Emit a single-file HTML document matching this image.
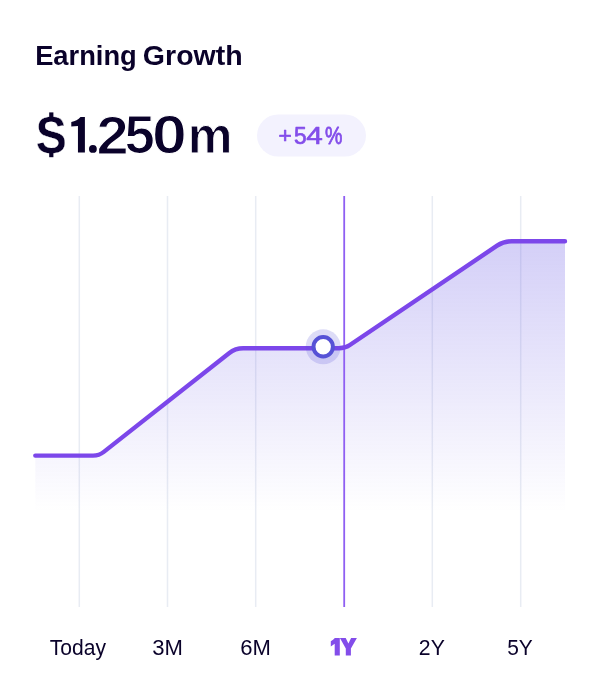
<!DOCTYPE html>
<html>
<head>
<meta charset="utf-8">
<style>
html,body{margin:0;padding:0;background:#ffffff;}
body{width:600px;height:700px;overflow:hidden;position:relative;font-family:"Liberation Sans",sans-serif;}
svg{position:absolute;left:0;top:0;will-change:transform;}
text{font-family:"Liberation Sans",sans-serif;}
</style>
</head>
<body>
<svg width="600" height="700" viewBox="0 0 600 700">
  <defs>
    <linearGradient id="fillg" x1="0" y1="241" x2="0" y2="512" gradientUnits="userSpaceOnUse">
      <stop offset="0" stop-color="#6252e4" stop-opacity="0.277"/>
      <stop offset="1" stop-color="#6252e4" stop-opacity="0"/>
    </linearGradient>
  </defs>

  <!-- title -->
  <text transform="translate(35.16 65.05) scale(0.2730 0.2851)" font-size="100" font-weight="bold" fill="#0a022a">Earning</text>
  <text transform="translate(142.86 65.05) scale(0.2853 0.2851)" font-size="100" font-weight="bold" fill="#0a022a">Growth</text>

  <!-- amount -->
  <text transform="translate(35.76 152.73) scale(0.4636 0.5201)" font-size="100" font-weight="bold" fill="#0a022a" stroke="#ffffff" stroke-width="0.30" vector-effect="non-scaling-stroke">S</text>
  <text transform="translate(96.58 153.50) scale(0.5781 0.5405)" font-size="100" font-weight="bold" fill="#0a022a" stroke="#ffffff" stroke-width="1.20" vector-effect="non-scaling-stroke">2</text>
  <text transform="translate(124.56 153.17) scale(0.5457 0.5305)" font-size="100" font-weight="bold" fill="#0a022a" stroke="#ffffff" stroke-width="1.20" vector-effect="non-scaling-stroke">5</text>
  <text transform="translate(151.90 153.26) scale(0.6253 0.5385)" font-size="100" font-weight="bold" fill="#0a022a" stroke="#ffffff" stroke-width="1.20" vector-effect="non-scaling-stroke">0</text>
  <text transform="translate(187.83 153.30) scale(0.5036 0.5153)" font-size="100" font-weight="bold" fill="#0a022a" stroke="#ffffff" stroke-width="1.00" vector-effect="non-scaling-stroke">m</text>
  <path d="M80.5 117 L84.9 117 L84.9 152.6 L77.95 152.6 L77.95 126 L71.3 126.5 L71.3 122 C75 121.5 78.5 119.5 80.5 117 Z" fill="#0a022a"/>
  <circle cx="92.9" cy="148.9" r="3.9" fill="#0a022a"/>
  <rect x="49.2" y="112.4" width="4.2" height="6" fill="#0a022a"/>
  <rect x="49.2" y="151" width="4.2" height="6.2" fill="#0a022a"/>

  <!-- badge -->
  <rect x="257" y="114.5" width="109" height="42" rx="21" ry="21" fill="#f3f2fe"/>
  <text transform="translate(278.52 142.81) scale(0.2268 0.2245)" font-size="100" font-weight="normal" fill="#834dea" stroke="#834dea" stroke-width="0.70" vector-effect="non-scaling-stroke" stroke-linejoin="round">+</text>
  <text transform="translate(293.94 143.61) scale(0.2274 0.2409)" font-size="100" font-weight="normal" fill="#834dea" stroke="#834dea" stroke-width="0.70" vector-effect="non-scaling-stroke" stroke-linejoin="round">5</text>
  <text transform="translate(306.28 143.55) scale(0.2970 0.2385)" font-size="100" font-weight="normal" fill="#834dea" stroke="#834dea" stroke-width="0.70" vector-effect="non-scaling-stroke" stroke-linejoin="round">4</text>
  <text transform="translate(324.96 143.53) scale(0.1957 0.2357)" font-size="100" font-weight="normal" fill="#834dea" stroke="#834dea" stroke-width="0.70" vector-effect="non-scaling-stroke" stroke-linejoin="round">%</text>

  <!-- grid -->
  <g stroke="#e8ecf3" stroke-width="1.5">
    <line x1="79.3" y1="196" x2="79.3" y2="607"/>
    <line x1="167.5" y1="196" x2="167.5" y2="607"/>
    <line x1="255.7" y1="196" x2="255.7" y2="607"/>
    <line x1="432.3" y1="196" x2="432.3" y2="607"/>
    <line x1="520.7" y1="196" x2="520.7" y2="607"/>
  </g>
  <!-- fill -->
  <path d="M35.30 455.60 L93.10 455.60 Q99.10 455.60 103.81 451.89 L229.02 353.25 Q235.30 348.30 243.30 348.30 L338.90 348.30 Q344.90 348.30 349.87 344.95 L497.07 245.67 Q503.70 241.20 511.70 241.20 L565.00 241.20 L565 514 L35.3 514 Z" fill="url(#fillg)"/>

  <line x1="344.2" y1="196" x2="344.2" y2="607" stroke="#8f5ff2" stroke-width="1.8"/>

  <!-- line -->
  <path d="M35.30 455.60 L93.10 455.60 Q99.10 455.60 103.81 451.89 L229.02 353.25 Q235.30 348.30 243.30 348.30 L338.90 348.30 Q344.90 348.30 349.87 344.95 L497.07 245.67 Q503.70 241.20 511.70 241.20 L565.00 241.20" fill="none" stroke="#7c47ea" stroke-width="4.4" stroke-linecap="round" stroke-linejoin="round"/>

  <!-- marker -->
  <circle cx="323.2" cy="346.8" r="17.5" fill="#5652d6" fill-opacity="0.2"/>
  <circle cx="323.2" cy="346.8" r="9.7" fill="#ffffff" stroke="#5652d6" stroke-width="4"/>

  <!-- labels -->
  <text transform="translate(49.83 655.00) scale(0.2108 0.2124)" font-size="100" font-weight="normal" fill="#0a022a">Today</text>
  <text transform="translate(152.17 655.00) scale(0.2209 0.2124)" font-size="100" font-weight="normal" fill="#0a022a">3M</text>
  <text transform="translate(240.20 655.00) scale(0.2207 0.2124)" font-size="100" font-weight="normal" fill="#0a022a">6M</text>
  <text transform="translate(418.84 655.00) scale(0.2122 0.2124)" font-size="100" font-weight="normal" fill="#0a022a">2Y</text>
  <text transform="translate(507.16 655.00) scale(0.2095 0.2124)" font-size="100" font-weight="normal" fill="#0a022a">5Y</text>
  <!-- 1Y heavy -->
  <path d="M334.9 637.9 L339.8 637.9 L339.8 655.6 L334.7 655.6 L334.7 643.8 L330.8 646.6 L330.8 641.2 Q333.2 639.8 334.9 637.9 Z" fill="#834dea"/>
  <path d="M339.9 637.9 L345.7 637.9 L348.4 643.4 L351.1 637.9 L356.9 637.9 L350.9 648.6 L350.9 655.6 L345.8 655.6 L345.8 648.6 Z" fill="#834dea"/>
</svg>
</body>
</html>
